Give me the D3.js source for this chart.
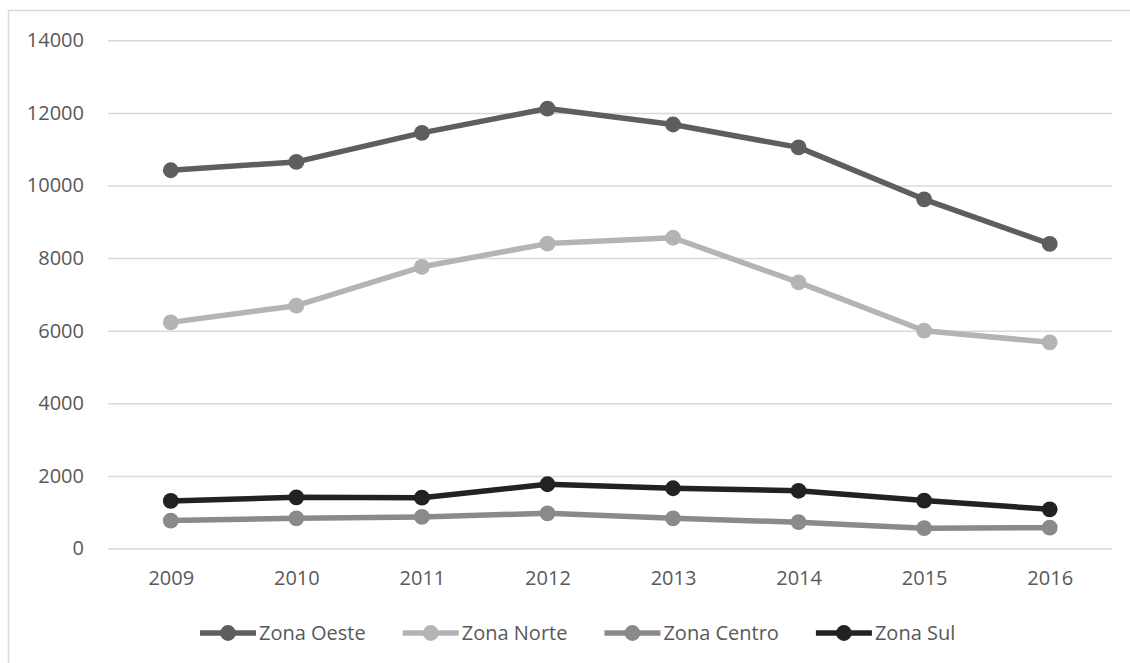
<!DOCTYPE html>
<html>
<head>
<meta charset="utf-8">
<script src="https://cdn.jsdelivr.net/npm/d3@7"></script>
<style>
  html, body { margin: 0; padding: 0; background: #fff; }
  svg { display: block; }
  text { font-family: "Open Sans", "Liberation Sans", sans-serif; fill: #595959; }
</style>
</head>
<body>
<svg id="chart" width="1130" height="663"></svg>
<script>
// Years on the category axis
const years = ["2009", "2010", "2011", "2012", "2013", "2014", "2015", "2016"];

// Values per zone
const zonaOeste  = [10420, 10650, 11450, 12120, 11680, 11050, 9620, 8390];
const zonaNorte  = [6230, 6690, 7760, 8400, 8560, 7330, 6000, 5680];
const zonaCentro = [770, 830, 870, 970, 830, 725, 560, 575];
const zonaSul    = [1310, 1410, 1400, 1770, 1660, 1590, 1320, 1080];

const seriesNames  = ["Zona Oeste", "Zona Norte", "Zona Centro", "Zona Sul"];
const seriesValues = [zonaOeste, zonaNorte, zonaCentro, zonaSul];
const seriesColors = ["#5e5e5e", "#b4b4b4", "#8a8a8a", "#222222"];

const yTicks = [0, 2000, 4000, 6000, 8000, 10000, 12000, 14000];

const svg = d3.select("#chart");
const fontSize = "20px";

// Outer chart frame
svg.append("rect")
  .attr("x", 8.5).attr("y", 10.5)
  .attr("width", 1140).attr("height", 670)
  .attr("fill", "none").attr("stroke", "#d9d9d9").attr("stroke-width", 1.5);

const plot = { left: 108, right: 1112.5, top: 40.3, bottom: 548.5 };

const x = d3.scalePoint().domain(years).range([plot.left, plot.right]).padding(0.5);
const y = d3.scaleLinear().domain([0, 14000]).range([plot.bottom, plot.top]);

// Horizontal gridlines
const yAxis = d3.axisLeft(y).tickValues(yTicks).tickSize(-(plot.right - plot.left)).tickPadding(24)
  .tickFormat(d3.format("d"));
const gy = svg.append("g").attr("transform", `translate(${plot.left},0)`).call(yAxis);
gy.select(".domain").remove();
gy.selectAll(".tick line").attr("stroke", "#d9d9d9").attr("stroke-width", 1.5);
gy.selectAll(".tick text").attr("font-size", fontSize).attr("fill", "#595959")
  .style("font-family", "'Open Sans', sans-serif");

// Category labels
const xAxis = d3.axisBottom(x).tickSize(0).tickPadding(22);
const gx = svg.append("g").attr("transform", `translate(0,${plot.bottom})`).call(xAxis);
gx.select(".domain").remove();
gx.selectAll(".tick text").attr("font-size", fontSize).attr("fill", "#595959")
  .style("font-family", "'Open Sans', sans-serif");

// Series lines and markers
const line = d3.line().x((d, i) => x(years[i])).y(d => y(d));
seriesValues.forEach((vals, s) => {
  const g = svg.append("g");
  g.append("path").datum(vals)
    .attr("d", line)
    .attr("fill", "none")
    .attr("stroke", seriesColors[s])
    .attr("stroke-width", 5.5)
    .attr("stroke-linejoin", "round");
  g.selectAll("circle").data(vals).join("circle")
    .attr("cx", (d, i) => x(years[i]))
    .attr("cy", d => y(d))
    .attr("r", 7.9)
    .attr("fill", seriesColors[s]);
});

// Legend
const legend = svg.append("g");
let lx = 200;
const ly = 633;
seriesNames.forEach((name, s) => {
  const item = legend.append("g");
  item.append("line")
    .attr("x1", lx).attr("x2", lx + 56)
    .attr("y1", ly).attr("y2", ly)
    .attr("stroke", seriesColors[s]).attr("stroke-width", 5.5);
  item.append("circle")
    .attr("cx", lx + 28).attr("cy", ly).attr("r", 7.9)
    .attr("fill", seriesColors[s]);
  const t = item.append("text")
    .attr("x", lx + 59).attr("y", ly)
    .attr("dy", "0.35em")
    .attr("font-size", fontSize)
    .text(name);
  lx += 59 + t.node().getComputedTextLength() + 37;
});
</script>
</body>
</html>
